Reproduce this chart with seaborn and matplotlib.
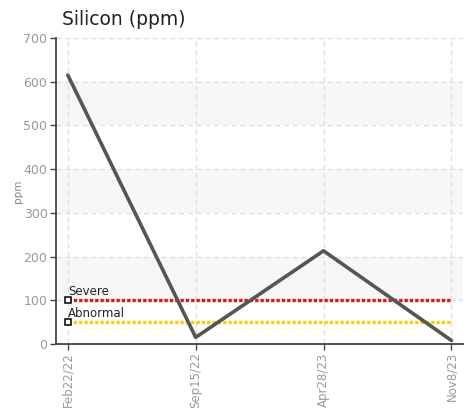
import matplotlib
matplotlib.use("Agg")
import matplotlib.pyplot as plt
import seaborn as sns
import pandas as pd

# data
dates = ["Feb22/22", "Sep15/22", "Apr28/23", "Nov8/23"]
silicon = [615, 15, 213, 8]
limit_names = ["Severe", "Abnormal"]
limit_values = [100, 50]
limit_colors = ["#ee1111", "#ffcc00"]
y_ticks = [0, 100, 200, 300, 400, 500, 600, 700]

sns.set_style("white")
plt.rcParams["font.family"] = ["DejaVu Sans"]

df = pd.DataFrame({"pos": range(len(dates)), "ppm": silicon})

fig = plt.figure(figsize=(4.69, 4.08), dpi=100)
ax = fig.add_axes([0.119, 0.157, 0.868, 0.750])

# alternating bands
for lo in (100, 300, 500):
    ax.axhspan(lo, lo + 100, color="#f7f7f7", zorder=0, lw=0)

n = len(dates)
for name, val, col in zip(limit_names, limit_values, limit_colors):
    ax.plot([0, n - 1], [val, val], color=col, lw=2.4, ls=(0, (1, 0.6)), zorder=2)
    ax.plot([0], [val], marker="s", ms=4.5, mfc="white", mec="black", mew=1.1, zorder=4)
    ax.text(0.0, val + 5, name, fontsize=8.5, color="#222222",
            ha="left", va="bottom", zorder=4)

sns.lineplot(data=df, x="pos", y="ppm", ax=ax, color="#555555", lw=2.6, zorder=3)

ax.set_ylim(0, 700)
ax.set_xlim(-0.094, 3.09)
ax.set_yticks(y_ticks)
ax.set_xticks(range(n))
ax.set_xticklabels(dates, rotation=90, fontsize=8.5, color="#999999")
ax.set_yticklabels(y_ticks, fontsize=9, color="#999999")
ax.grid(True, color="#dddddd", ls=(0, (4, 3)), lw=0.9)
ax.set_axisbelow(True)
ax.tick_params(axis="both", length=4, width=1, color="#444444", direction="out",
               left=True, bottom=True, pad=2)
for side in ("top", "right"):
    ax.spines[side].set_visible(False)
for side in ("left", "bottom"):
    ax.spines[side].set_color("#444444")
    ax.spines[side].set_linewidth(1.3)

ax.set_xlabel("")
ax.set_ylabel("ppm", fontsize=7.5, color="#888888")
ax.yaxis.set_label_coords(-0.08, 0.5)
fig.text(0.132, 0.93, "Silicon (ppm)", fontsize=13.5, color="#222222", ha="left", va="bottom")

fig.savefig("out.png", dpi=100)
